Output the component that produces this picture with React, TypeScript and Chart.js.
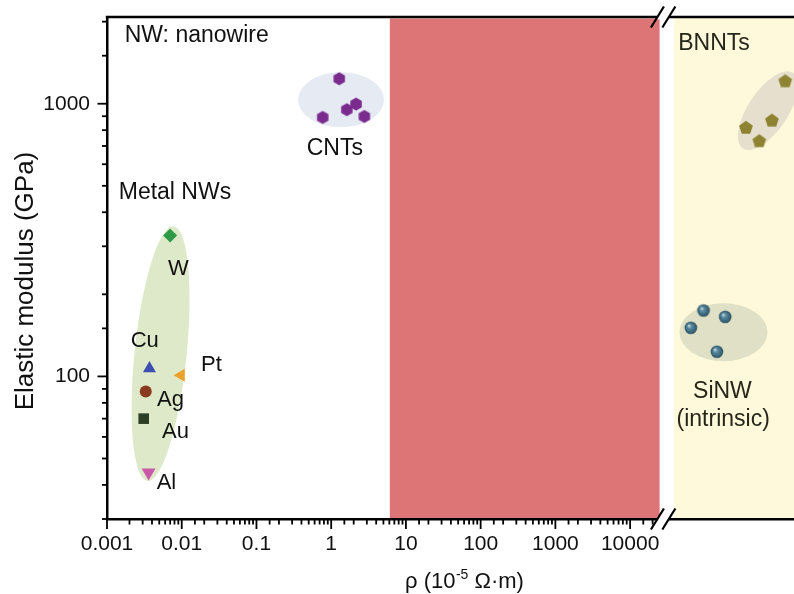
import React, { useEffect, useRef } from 'react';
import { Chart, registerables } from 'chart.js';

Chart.register(...registerables);

const FONT = '"Liberation Sans", Arial, Helvetica, sans-serif';

// Metal nanowires: resistivity (1e-5 Ohm·m) vs elastic modulus (GPa)
const metalNames = ['W', 'Cu', 'Pt', 'Ag', 'Au', 'Al'];
const metalRho = [0.007, 0.0037, 0.0098, 0.0033, 0.0031, 0.0036];
const metalModulus = [329, 107, 101, 88, 70, 44.4];
const metalLabelRho = [0.00904, 0.0032, 0.02497, 0.00708, 0.00826, 0.00624];
const metalLabelModulus = [235, 128.5, 104.3, 77.8, 59.6, 38.8];
const metalColors = ['#2e9a48', '#3c4fb0', '#e9a12b', '#8a3b1d', '#2c3e23', '#c85aa8'];
const metalShapes = ['rectRot', 'triangle', 'triangle', 'circle', 'rect', 'triangle'];
const metalRotation = [0, 0, -90, 0, 0, 180];
const metalRadius = [7, 7.5, 7.5, 6, 7.5, 8];

// Carbon nanotubes
const cntRho = [1.28, 0.77, 1.62, 2.15, 2.78];
const cntModulus = [1235, 891, 951, 997, 898];

// Beyond the axis break: boron nitride nanotubes and intrinsic Si nanowires
const bnntRho = [1.19e6, 7.9e5, 3.55e5, 5.35e5];
const bnntModulus = [1207, 866, 815, 728];
const sinwRho = [9.6e4, 1.87e5, 6.5e4, 1.45e5];
const sinwModulus = [174.5, 165.4, 150.8, 123.2];

// Axis ticks
const xTickLabels = ['0.001', '0.01', '0.1', '1', '10', '100', '1000', '10000'];
const yTickLabels = ['100', '1000'];
const xTickValues = xTickLabels.map(Number);
const yTickValues = yTickLabels.map(Number);

// Axis ranges, shaded regions and break
const X_MIN = 0.001;
const X_MAX = 1.56e6;
const Y_MIN = 30;
const Y_MAX = 2080;
const shadedBand = [6.09, 24800];
const semiconductorStart = 38500;
const breakMarks = [23200, 33000];
const lastTickValue = 20001;

// Group envelopes: major-axis end points in data space, half minor axis in px
const groupEllipses = [
  { from: [0.00348, 41.4], to: [0.00779, 355], half: 26, color: '#dde9c8' },
  { from: [0.36, 1034], to: [5.1, 1034], half: 27.5, color: '#e6ebf3' },
  { from: [3.24e5, 685], to: [1.51e6, 1298], half: 20, color: '#e6dfcd' },
  { from: [45800, 145.3], to: [6.9e5, 145.3], half: 29, color: '#dfe0c5' },
];

// Group annotations (anchor at text baseline)
const groupLabels = [
  { text: 'NW: nanowire', x: 0.001726, y: 1691, align: 'left', color: '#111' },
  { text: 'Metal NWs', x: 0.001435, y: 448, align: 'left', color: '#111' },
  { text: 'CNTs', x: 1.117, y: 648, align: 'center', color: '#111' },
  { text: 'BNNTs', x: 44000, y: 1577, align: 'left', color: '#26261a' },
  { text: 'SiNW', x: 1.72e5, y: 83.1, align: 'center', color: '#26261a' },
  { text: '(intrinsic)', x: 1.76e5, y: 65.8, align: 'center', color: '#26261a' },
];

function makeMarker(size: number, draw: (ctx: CanvasRenderingContext2D, c: number) => void) {
  const cv = document.createElement('canvas');
  cv.width = size;
  cv.height = size;
  const ctx = cv.getContext('2d') as CanvasRenderingContext2D;
  draw(ctx, size / 2);
  return cv;
}

function polygonMarker(size: number, sides: number, r: number, color: string) {
  return makeMarker(size, (ctx, c) => {
    ctx.beginPath();
    for (let i = 0; i < sides; i++) {
      const a = -Math.PI / 2 + (i * 2 * Math.PI) / sides;
      const px = c + r * Math.cos(a);
      const py = c + r * Math.sin(a);
      if (i === 0) ctx.moveTo(px, py);
      else ctx.lineTo(px, py);
    }
    ctx.closePath();
    ctx.fillStyle = color;
    ctx.fill();
  });
}

function sphereMarker(size: number, r: number) {
  return makeMarker(size, (ctx, c) => {
    const g = ctx.createRadialGradient(c - 2, c - 2.2, 0.4, c, c, r);
    g.addColorStop(0, '#c4d8e2');
    g.addColorStop(0.3, '#5b8ba0');
    g.addColorStop(0.75, '#3a677b');
    g.addColorStop(1, '#2a4d5e');
    ctx.beginPath();
    ctx.arc(c, c, r, 0, Math.PI * 2);
    ctx.fillStyle = g;
    ctx.fill();
  });
}

const matchLabel = (values: number[], labels: string[], v: number) => {
  const i = values.findIndex((t) => Math.abs(Math.log10(t) - Math.log10(v)) < 1e-6);
  return i >= 0 ? labels[i] : '';
};

const decorPlugin = {
  id: 'decor',
  beforeDraw(chart: any) {
    const { ctx, chartArea: a } = chart;
    const x = chart.scales.x;
    const y = chart.scales.y;
    ctx.save();
    const r0 = x.getPixelForValue(shadedBand[0]);
    const r1 = x.getPixelForValue(shadedBand[1]);
    ctx.fillStyle = '#dd7475';
    ctx.fillRect(r0, a.top + 1.5, r1 - r0, a.bottom - a.top - 1.5);
    const s0 = x.getPixelForValue(semiconductorStart);
    ctx.fillStyle = '#fef9db';
    ctx.fillRect(s0, a.top, a.right - s0, a.bottom - a.top);

    ctx.beginPath();
    ctx.rect(a.left, a.top, a.right - a.left, a.bottom - a.top);
    ctx.clip();
    for (const e of groupEllipses) {
      const x1 = x.getPixelForValue(e.from[0]);
      const y1 = y.getPixelForValue(e.from[1]);
      const x2 = x.getPixelForValue(e.to[0]);
      const y2 = y.getPixelForValue(e.to[1]);
      const cx = (x1 + x2) / 2;
      const cy = (y1 + y2) / 2;
      const major = Math.hypot(x2 - x1, y2 - y1) / 2;
      const ang = Math.atan2(y2 - y1, x2 - x1);
      ctx.beginPath();
      ctx.ellipse(cx, cy, major, e.half, ang, 0, Math.PI * 2);
      ctx.fillStyle = e.color;
      ctx.fill();
    }
    ctx.restore();
  },
  afterDraw(chart: any) {
    const { ctx, chartArea: a } = chart;
    const x = chart.scales.x;
    const y = chart.scales.y;
    ctx.save();
    ctx.strokeStyle = '#000';
    ctx.lineCap = 'butt';

    // top frame line
    ctx.lineWidth = 2.5;
    ctx.beginPath();
    ctx.moveTo(a.left - 1.25, a.top);
    ctx.lineTo(a.right, a.top);
    ctx.stroke();

    // tick marks (long at labelled decades, short otherwise)
    ctx.lineWidth = 1.8;
    for (const t of x.ticks) {
      const p = x.getPixelForValue(t.value);
      const len = t.label ? 10 : 5.5;
      ctx.beginPath();
      ctx.moveTo(p, a.bottom);
      ctx.lineTo(p, a.bottom + len);
      ctx.stroke();
    }
    for (const t of y.ticks) {
      const p = y.getPixelForValue(t.value);
      const len = t.label ? 9.5 : 5;
      ctx.beginPath();
      ctx.moveTo(a.left, p);
      ctx.lineTo(a.left - len, p);
      ctx.stroke();
    }

    // axis break on top and bottom frame lines
    const b0 = x.getPixelForValue(breakMarks[0]);
    const b1 = x.getPixelForValue(breakMarks[1]);
    for (const ly of [a.top, a.bottom]) {
      ctx.fillStyle = '#fff';
      ctx.fillRect(b0, ly - 2.5, b1 - b0, 5);
      ctx.lineWidth = 2.2;
      for (const c of [b0, b1]) {
        ctx.beginPath();
        ctx.moveTo(c - 6.5, ly + 10.5);
        ctx.lineTo(c + 6.5, ly - 10.5);
        ctx.stroke();
      }
    }

    // annotations
    ctx.textBaseline = 'alphabetic';
    ctx.font = `23px ${FONT}`;
    for (const g of groupLabels) {
      ctx.fillStyle = g.color;
      ctx.textAlign = g.align as CanvasTextAlign;
      ctx.fillText(g.text, x.getPixelForValue(g.x), y.getPixelForValue(g.y));
    }
    ctx.font = `22px ${FONT}`;
    ctx.textAlign = 'center';
    ctx.fillStyle = '#111';
    metalNames.forEach((n, i) => {
      ctx.fillText(n, x.getPixelForValue(metalLabelRho[i]), y.getPixelForValue(metalLabelModulus[i]));
    });

    // x-axis title with superscript
    const tx = a.left + (a.right - a.left) * 0.52;
    const base = 588;
    const partA = 'ρ (10';
    const sup = '-5';
    const partB = ' Ω·m)';
    ctx.font = `22px ${FONT}`;
    const wA = ctx.measureText(partA).width;
    const wB = ctx.measureText(partB).width;
    ctx.font = `14px ${FONT}`;
    const wS = ctx.measureText(sup).width;
    let cx = tx - (wA + wS + wB) / 2;
    ctx.textAlign = 'left';
    ctx.font = `22px ${FONT}`;
    ctx.fillText(partA, cx, base);
    cx += wA + 0.5;
    ctx.font = `14px ${FONT}`;
    ctx.fillText(sup, cx, base - 9);
    cx += wS;
    ctx.font = `22px ${FONT}`;
    ctx.fillText(partB, cx, base);

    // y-axis title
    ctx.translate(26, a.top + (a.bottom - a.top) * 0.526);
    ctx.rotate(-Math.PI / 2);
    ctx.textAlign = 'center';
    ctx.textBaseline = 'middle';
    ctx.font = `26px ${FONT}`;
    ctx.fillText('Elastic modulus (GPa)', 0, 0);
    ctx.restore();
  },
};

export default function App() {
  const ref = useRef<HTMLCanvasElement | null>(null);

  useEffect(() => {
    const canvas = ref.current;
    if (!canvas) return;
    const hexagon = polygonMarker(16, 6, 6.6, '#7a2b8d');
    const pentagon = polygonMarker(18, 5, 7.2, '#8d8331');
    const sphere = sphereMarker(16, 6.3);

    const chart = new Chart(canvas, {
      type: 'scatter',
      data: {
        datasets: [
          {
            label: 'Metal NWs',
            data: metalRho.map((v, i) => ({ x: v, y: metalModulus[i] })),
            pointStyle: metalShapes as any,
            rotation: metalRotation,
            pointRadius: metalRadius,
            backgroundColor: metalColors,
            borderColor: metalColors,
            borderWidth: 0,
          },
          {
            label: 'CNTs',
            data: cntRho.map((v, i) => ({ x: v, y: cntModulus[i] })),
            pointStyle: hexagon as any,
          },
          {
            label: 'BNNTs',
            data: bnntRho.map((v, i) => ({ x: v, y: bnntModulus[i] })),
            pointStyle: pentagon as any,
          },
          {
            label: 'SiNW (intrinsic)',
            data: sinwRho.map((v, i) => ({ x: v, y: sinwModulus[i] })),
            pointStyle: sphere as any,
          },
        ],
      },
      options: {
        animation: false,
        responsive: false,
        devicePixelRatio: 1,
        layout: { autoPadding: false, padding: { top: 17, right: 0, bottom: 0, left: 0 } },
        plugins: { legend: { display: false }, tooltip: { enabled: false } },
        scales: {
          x: {
            type: 'logarithmic',
            position: 'bottom',
            min: X_MIN,
            max: X_MAX,
            border: { display: true, color: '#000', width: 2.5 },
            grid: { drawOnChartArea: false, drawTicks: true, tickLength: 13, tickColor: 'rgba(0,0,0,0)' },
            afterBuildTicks: (s: any) => {
              s.ticks = s.ticks.filter((t: any) => t.value <= lastTickValue);
            },
            afterFit: (s: any) => {
              s.height = 75;
              s.paddingRight = 0;
              s.paddingLeft = 0;
            },
            ticks: {
              autoSkip: false,
              maxRotation: 0,
              minRotation: 0,
              padding: 0,
              color: '#111',
              font: { family: FONT, size: 21 },
              callback: (v: any) => matchLabel(xTickValues, xTickLabels, Number(v)),
            },
          },
          y: {
            type: 'logarithmic',
            position: 'left',
            min: Y_MIN,
            max: Y_MAX,
            border: { display: true, color: '#000', width: 2.5 },
            grid: { drawOnChartArea: false, drawTicks: true, tickLength: 17, tickColor: 'rgba(0,0,0,0)' },
            afterBuildTicks: (s: any) => {
              s.ticks = s.ticks.filter((t: any) => t.value <= 2000.5);
            },
            afterFit: (s: any) => {
              s.width = 107;
              s.paddingTop = 0;
              s.paddingBottom = 0;
            },
            ticks: {
              autoSkip: false,
              padding: 0,
              color: '#111',
              font: { family: FONT, size: 21 },
              callback: (v: any) => matchLabel(yTickValues, yTickLabels, Number(v)),
            },
          },
        },
      },
      plugins: [decorPlugin],
    });
    return () => chart.destroy();
  }, []);

  return (
    <div style={{ position: 'absolute', left: 0, top: 0, width: 794, height: 594, background: '#fff' }}>
      <canvas ref={ref} width={794} height={594} style={{ display: 'block' }} />
    </div>
  );
}
